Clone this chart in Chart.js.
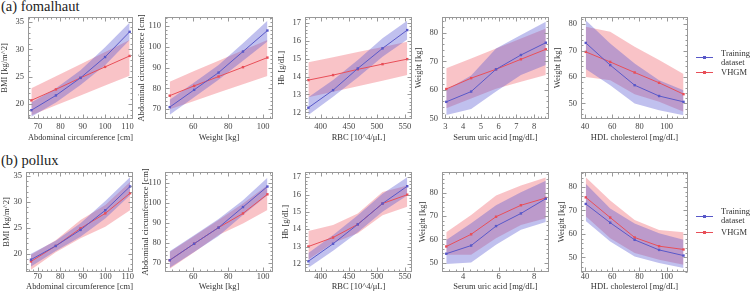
<!DOCTYPE html>
<html>
<head>
<meta charset="utf-8">
<script src="https://cdn.jsdelivr.net/npm/chart.js@4.4.1/dist/chart.umd.min.js"></script>
<style>
  html, body { margin: 0; padding: 0; background: #fff; }
  body { width: 750px; height: 292px; position: relative; overflow: hidden;
         font-family: "Liberation Serif", "DejaVu Serif", serif; color: #222; }
  canvas { position: absolute; }
  .ttl { position: absolute; left: 1px; font-size: 14.5px; white-space: nowrap; }
  .lg { position: absolute; font-size: 8.5px; line-height: 9px; color: #333; white-space: nowrap; }
  .sw { position: absolute; width: 17px; height: 1px; }
  .sw i { position: absolute; left: 7px; top: -1px; width: 3px; height: 3px; }
</style>
</head>
<body>
<div class="ttl" style="top:-2px">(a) fomalhaut</div>
<div class="ttl" style="top:152px">(b) pollux</div>

<script>
// x positions of the 5 bins (shared by both rows)
const xAbd = [67, 78, 89, 100, 111];
const xWt  = [46.5, 60.5, 74.5, 88.5, 102.5];
const xRbc = [378, 422, 466, 510, 554];
const xUa  = [3.05, 4.45, 5.85, 7.25, 8.65];
const xHdl = [40.5, 58.5, 76.5, 94.5, 112.5];

// tick labels
const tAbd  = [70, 80, 90, 100, 110];
const tWt   = [60, 80, 100];
const tRbc  = [400, 450, 500, 550];
const tUa   = [3, 4, 5, 6, 7, 8];
const tUa2  = [4, 6, 8];
const tHdl  = [40, 60, 80, 100];
const tBmi  = [20, 25, 30, 35];
const tCirc = [70, 80, 90, 100, 110];
const tHb   = [12, 13, 14, 15, 16, 17];
const tW50  = [50, 60, 70, 80];

// (a) fomalhaut
const a1Train = [18.9, 21.6, 24.8, 28.6, 33.2];
const a1TrainLo = [17.7, 20.3, 23.5, 27.1, 31.7];
const a1TrainHi = [20.3, 22.9, 26.2, 30.4, 34.9];
const a1Vhgm = [20.7, 22.7, 24.8, 26.8, 28.8];
const a1VhgmLo = [18.0, 19.8, 21.6, 23.4, 25.2];
const a1VhgmHi = [22.9, 25.1, 27.3, 29.5, 31.7];

const a2Train = [71.0, 79.3, 87.6, 97.7, 107.8];
const a2TrainLo = [67.3, 75.8, 84.1, 93.3, 102.5];
const a2TrainHi = [74.5, 82.8, 91.3, 101.7, 112.5];
const a2Vhgm = [76.5, 81.2, 85.7, 90.2, 94.8];
const a2VhgmLo = [70.0, 74.0, 78.0, 82.0, 86.0];
const a2VhgmHi = [83.2, 88.3, 93.3, 98.3, 103.3];

const a3Train = [12.26, 13.24, 14.45, 15.57, 16.59];
const a3TrainLo = [11.85, 12.87, 13.95, 15.10, 16.07];
const a3TrainHi = [12.84, 13.80, 14.92, 16.13, 17.11];
const a3Vhgm = [13.80, 14.08, 14.40, 14.69, 14.97];
const a3VhgmLo = [12.84, 13.15, 13.46, 13.77, 14.08];
const a3VhgmHi = [14.79, 15.08, 15.37, 15.65, 15.94];

const a4Train = [55.8, 59.4, 67.2, 72.2, 76.5];
const a4TrainLo = [51.2, 53.3, 59.4, 65.2, 68.7];
const a4TrainHi = [60.0, 65.0, 74.5, 79.2, 83.8];
const a4Vhgm = [60.3, 64.1, 67.2, 70.7, 74.2];
const a4VhgmLo = [53.6, 57.0, 60.4, 62.8, 65.2];
const a4VhgmHi = [67.6, 71.0, 74.5, 78.0, 81.5];

const a5Train = [72.9, 64.5, 56.9, 52.8, 50.6];
const a5TrainLo = [63.0, 56.9, 50.0, 47.4, 45.5];
const a5TrainHi = [81.5, 72.7, 65.1, 58.8, 55.0];
const a5Vhgm = [69.5, 65.7, 61.7, 57.8, 53.5];
const a5VhgmLo = [60.0, 58.8, 53.5, 50.6, 46.8];
const a5VhgmHi = [79.0, 77.1, 71.4, 66.4, 61.1];

// (b) pollux
const b1Train = [18.85, 21.5, 24.6, 28.4, 33.0];
const b1TrainLo = [17.5, 20.5, 23.3, 26.8, 31.3];
const b1TrainHi = [20.0, 22.5, 25.9, 30.2, 34.8];
const b1Vhgm = [18.5, 21.5, 24.9, 27.8, 31.7];
const b1VhgmLo = [16.9, 20.3, 23.0, 25.2, 28.4];
const b1VhgmHi = [19.8, 22.6, 26.5, 29.4, 33.9];

const b2Train = [71.3, 79.6, 87.7, 98.0, 108.3];
const b2TrainLo = [67.5, 75.5, 83.5, 94.0, 103.9];
const b2TrainHi = [75.8, 83.8, 92.0, 101.4, 112.7];
const b2Vhgm = [71.3, 79.6, 87.7, 94.8, 104.4];
const b2VhgmLo = [67.0, 75.3, 84.0, 89.8, 96.5];
const b2VhgmHi = [75.5, 83.5, 91.5, 99.8, 108.9];

const b3Train = [12.15, 13.16, 14.28, 15.48, 16.48];
const b3TrainLo = [11.77, 12.76, 13.82, 15.0, 15.95];
const b3TrainHi = [12.63, 13.67, 14.81, 16.05, 17.0];
const b3Vhgm = [13.0, 13.52, 14.28, 15.48, 15.99];
const b3VhgmLo = [12.25, 13.2, 13.77, 14.81, 15.29];
const b3VhgmHi = [13.9, 14.24, 14.9, 16.14, 16.52];

const b4Train = [53.9, 57.4, 65.7, 71.1, 77.4];
const b4TrainLo = [49.5, 50.2, 57.7, 64.1, 67.5];
const b4TrainHi = [59.8, 66.9, 74.6, 80.2, 85.1];
const b4Vhgm = [57.0, 62.2, 69.7, 74.6, 77.7];
const b4VhgmLo = [53.5, 53.5, 60.5, 66.2, 69.0];
const b4VhgmHi = [63.1, 70.4, 78.8, 83.0, 86.5];

const b5Train = [72.8, 64.8, 57.5, 53.2, 50.8];
const b5TrainLo = [65.5, 56.8, 50.4, 47.6, 45.5];
const b5TrainHi = [81.4, 70.8, 64.5, 60.3, 57.5];
const b5Vhgm = [75.6, 67.0, 58.5, 54.8, 53.4];
const b5VhgmLo = [67.5, 58.2, 51.9, 49.0, 46.9];
const b5VhgmHi = [84.2, 74.3, 65.9, 61.7, 60.7];

// ---- styling / layout ----
const FONT = '"Liberation Serif", "DejaVu Serif", serif';
const BLUE = 'rgb(88,88,200)';
const BLUE_FILL = 'rgba(90,90,210,0.38)';
const RED = 'rgb(232,78,88)';
const RED_FILL = 'rgba(238,90,100,0.36)';

const ROWS = {
  a: { y0: 17,  y1: 119, yW: 28, xH: 24, padX: 3.5, padY: 4 },
  b: { y0: 172, y1: 272, yW: 24, xH: 20, padX: 0.5, padY: 4 }
};
const COLS = [[28, 133], [165, 273], [305, 412], [442, 549], [581, 688]];

const XL = ['Abdominal circumference [cm]', 'Weight [kg]', 'RBC [10^4/\u03bcL]', 'Serum uric acid [mg/dL]', 'HDL cholesterol [mg/dL]'];
const YL = ['BMI [kg/m^2]', 'Abdominal circumference [cm]', 'Hb [g/dL]', 'Weight [kg]', 'Weight [kg]'];

const panels = [
  { row: 'a', col: 0, xs: xAbd, xr: [65.5, 112.5], yr: [17.3, 35.9], xt: tAbd, yt: tBmi,
    s: [a1Train, a1TrainLo, a1TrainHi, a1Vhgm, a1VhgmLo, a1VhgmHi] },
  { row: 'a', col: 1, xs: xWt, xr: [43.8, 105.7], yr: [65.3, 114.3], xt: tWt, yt: tCirc,
    s: [a2Train, a2TrainLo, a2TrainHi, a2Vhgm, a2VhgmLo, a2VhgmHi] },
  { row: 'a', col: 2, xs: xRbc, xr: [372, 562.5], yr: [11.63, 17.32], xt: tRbc, yt: tHb,
    s: [a3Train, a3TrainLo, a3TrainHi, a3Vhgm, a3VhgmLo, a3VhgmHi] },
  { row: 'a', col: 3, xs: xUa, xr: [2.81, 8.83], yr: [49.8, 85.5], xt: tUa, yt: tW50,
    s: [a4Train, a4TrainLo, a4TrainHi, a4Vhgm, a4VhgmLo, a4VhgmHi] },
  { row: 'a', col: 4, xs: xHdl, xr: [37, 115.8], yr: [44.1, 82.7], xt: tHdl, yt: tW50,
    s: [a5Train, a5TrainLo, a5TrainHi, a5Vhgm, a5VhgmLo, a5VhgmHi] },
  { row: 'b', col: 0, box: [26, 133], xs: xAbd, xr: [64.8, 112.3], yr: [16.46, 35.8], xt: tAbd, yt: tBmi,
    s: [b1Train, b1TrainLo, b1TrainHi, b1Vhgm, b1VhgmLo, b1VhgmHi] },
  { row: 'b', col: 1, xs: xWt, xr: [43.8, 105.7], yr: [65.4, 115.6], xt: tWt, yt: tCirc,
    s: [b2Train, b2TrainLo, b2TrainHi, b2Vhgm, b2VhgmLo, b2VhgmHi] },
  { row: 'b', col: 2, xs: xRbc, xr: [372, 562.5], yr: [11.53, 17.3], xt: tRbc, yt: tHb,
    s: [b3Train, b3TrainLo, b3TrainHi, b3Vhgm, b3VhgmLo, b3VhgmHi] },
  { row: 'b', col: 3, xs: xUa, xr: [2.81, 8.83], yr: [46.1, 88.8], xt: tUa2, yt: tW50,
    s: [b4Train, b4TrainLo, b4TrainHi, b4Vhgm, b4VhgmLo, b4VhgmHi] },
  { row: 'b', col: 4, xs: xHdl, xr: [37, 115.8], yr: [43.8, 86.4], xt: tHdl, yt: tW50,
    s: [b5Train, b5TrainLo, b5TrainHi, b5Vhgm, b5VhgmLo, b5VhgmHi] }
];

// Mathematica-like frame with inward major/minor ticks on all four sides
const framePlugin = {
  id: 'frame',
  afterDraw(chart) {
    const { ctx, chartArea: a } = chart;
    const L = Math.round(a.left) + 0.5, R = Math.round(a.right) - 0.5;
    const T = Math.round(a.top) + 0.5, B = Math.round(a.bottom) - 0.5;
    ctx.save();
    ctx.strokeStyle = '#999';
    ctx.lineWidth = 1;
    ctx.strokeRect(L, T, R - L, B - T);
    ctx.beginPath();
    ['x', 'y'].forEach(id => {
      const sc = chart.scales[id];
      const major = sc.ticks.map(t => t.value);
      const step = (major[1] - major[0]) / 5;
      for (let v = Math.ceil(sc.min / step) * step; v <= sc.max + 1e-9; v += step) {
        const isMajor = major.some(m => Math.abs(m - v) < step / 10);
        const len = isMajor ? 4 : 2;
        const p = Math.round(sc.getPixelForValue(v)) + 0.5;
        if (id === 'x') {
          ctx.moveTo(p, B); ctx.lineTo(p, B - len);
          ctx.moveTo(p, T); ctx.lineTo(p, T + len);
        } else {
          ctx.moveTo(L, p); ctx.lineTo(L + len, p);
          ctx.moveTo(R, p); ctx.lineTo(R - len, p);
        }
      }
    });
    ctx.stroke();
    ctx.restore();
  }
};

function makeChart(p) {
  const r = ROWS[p.row];
  const [x0, x1] = p.box || COLS[p.col];
  const w = r.yW + (x1 - x0) + 12;
  const h = 10 + (r.y1 - r.y0) + r.xH;
  const cv = document.createElement('canvas');
  cv.width = w; cv.height = h;
  cv.style.width = w + 'px'; cv.style.height = h + 'px';
  cv.style.left = (x0 - r.yW) + 'px';
  cv.style.top = (r.y0 - 10) + 'px';
  document.body.appendChild(cv);

  const pts = arr => p.xs.map((x, i) => ({ x: x, y: arr[i] }));
  const [tr, trLo, trHi, vh, vhLo, vhHi] = p.s;
  const band = (d, fill, color, order) => ({
    data: pts(d), fill: fill, backgroundColor: color, borderColor: 'transparent',
    borderWidth: 0, pointRadius: 0, order: order
  });
  const line = (d, color, order) => ({
    data: pts(d), fill: false, borderColor: color, backgroundColor: color,
    borderWidth: 1, pointRadius: 1.7, pointStyle: 'rect', pointBorderWidth: 0, order: order
  });
  const tickFont = { family: FONT, size: 8.5, lineHeight: 1 };
  const titleFont = { family: FONT, size: 8.5 };

  new Chart(cv, {
    type: 'line',
    data: {
      datasets: [
        band(vhHi, '+1', RED_FILL, 4),
        band(vhLo, false, RED_FILL, 4),
        band(trHi, '+1', BLUE_FILL, 3),
        band(trLo, false, BLUE_FILL, 3),
        line(vh, RED, 2),
        line(tr, BLUE, 1)
      ]
    },
    options: {
      responsive: false,
      animation: false,
      devicePixelRatio: 1,
      layout: { padding: { top: 10, right: 12, left: 0, bottom: 0 } },
      plugins: { legend: { display: false }, tooltip: { enabled: false } },
      elements: { line: { tension: 0 } },
      scales: {
        x: {
          type: 'linear', min: p.xr[0], max: p.xr[1],
          afterBuildTicks: s => { s.ticks = p.xt.map(v => ({ value: v })); },
          afterFit: s => { s.height = r.xH; },
          grid: { display: false, drawTicks: false },
          border: { display: false },
          ticks: { padding: r.padX, color: '#444', font: tickFont, maxRotation: 0, autoSkip: false },
          title: { display: true, text: XL[p.col], color: '#333', font: titleFont, padding: 0 }
        },
        y: {
          type: 'linear', min: p.yr[0], max: p.yr[1],
          afterBuildTicks: s => { s.ticks = p.yt.map(v => ({ value: v })); },
          afterFit: s => { s.width = r.yW; },
          grid: { display: false, drawTicks: false },
          border: { display: false },
          ticks: { padding: r.padY, color: '#444', font: tickFont, autoSkip: false },
          title: { display: true, text: YL[p.col], color: '#333', font: titleFont, padding: 0 }
        }
      }
    },
    plugins: [framePlugin]
  });
}

panels.forEach(makeChart);

// legends (HTML, one per row)
function legend(lineY1, lineY2, textTop1, textTop2) {
  const add = html => document.body.insertAdjacentHTML('beforeend', html);
  add(`<div class="sw" style="left:696px;top:${lineY1}px;background:${BLUE}"><i style="background:${BLUE}"></i></div>`);
  add(`<div class="sw" style="left:696px;top:${lineY2}px;background:${RED}"><i style="background:${RED}"></i></div>`);
  add(`<div class="lg" style="left:721px;top:${textTop1}px">Training<br>dataset</div>`);
  add(`<div class="lg" style="left:721px;top:${textTop2}px">VHGM</div>`);
}
legend(57, 72, 48.5, 67.5);
legend(216, 232, 207, 227.5);
</script>
</body>
</html>
